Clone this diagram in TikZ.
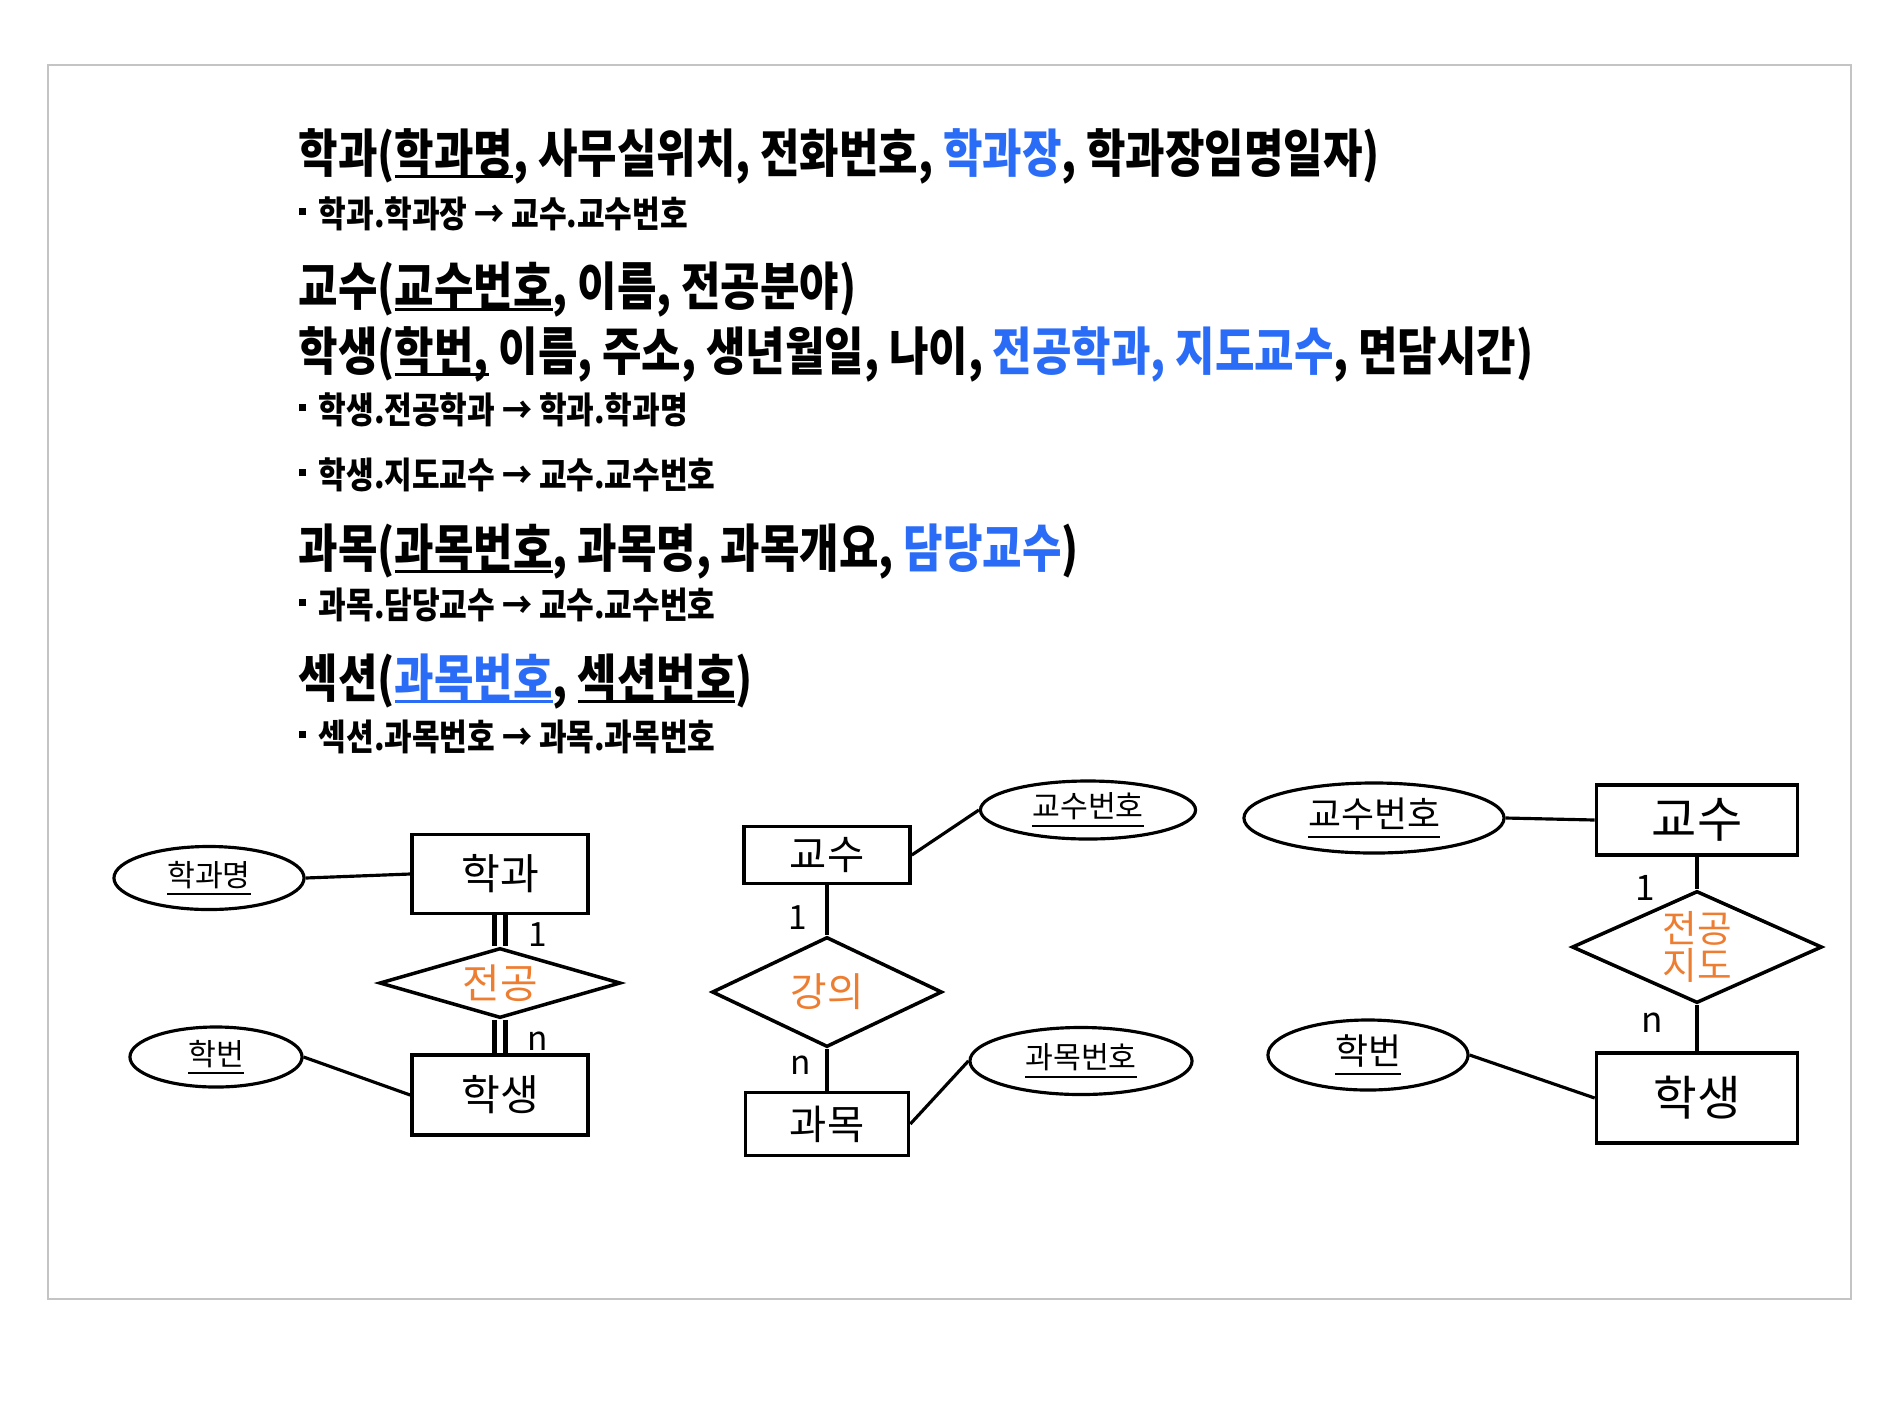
\documentclass[tikz,border=0pt]{standalone}
\usepackage{fontspec}
\usepackage{tikz}
\usetikzlibrary{shapes.geometric, positioning, calc}
\usepackage{xcolor}
\newfontfamily\krhead{Noto Sans CJK KR}[FakeStretch=0.83]
\newfontfamily\kr{Noto Sans CJK KR}
\definecolor{Ink}{HTML}{000000}
\definecolor{Frame}{HTML}{C4C4C4}
\definecolor{KeyBlue}{HTML}{2B6CF6}
\definecolor{RelOrange}{HTML}{ED7D31}
\newcommand{\fkey}[1]{\textcolor{KeyBlue}{#1}}
\newcommand{\pkey}[2][0.12em]{\setbox0\hbox{#2}\rlap{\rule[-#1]{\wd0}{0.07em}}\box0\relax}
\newcommand{\fkbullet}{\rule[3.4pt]{2pt}{2pt}\hspace{3.7pt}}

\begin{document}
\begin{tikzpicture}[
            x=0.01cm, y=-0.01cm,
            head/.style={
                anchor=base west,
                inner sep=0pt,
                text=Ink,
                font=\krhead\bfseries\fontsize{14.7}{17}\selectfont
            },
            fkline/.style={
                head,
                font=\krhead\bfseries\fontsize{10.3}{12}\selectfont
            },
            entity/.style={
                rectangle,
                draw=Ink,
                line width=1pt,
                inner sep=0pt,
                font=\kr\fontsize{12}{14}\selectfont
            },
            rel/.style={
                diamond,
                draw=Ink,
                line width=1pt,
                inner sep=0pt,
                align=center,
                text=RelOrange,
                font=\kr\fontsize{11.6}{13}\selectfont
            },
            attr/.style={
                ellipse,
                draw=Ink,
                line width=0.9pt,
                inner sep=0pt,
                font=\kr\fontsize{8.6}{10}\selectfont
            },
            link/.style={line width=0.9pt, color=Ink},
            total/.style={line width=1.2pt, double, double distance=1.9pt},
            card/.style={inner sep=0pt, font=\kr\fontsize{9.5}{11}\selectfont}
        ]
            \useasboundingbox (0,0) rectangle (1890,1417);
            \draw[Frame, line width=0.8pt] (48,65) rectangle (1851,1299);

            % Relation schemas
            \node[head] (dept) at (298,172) {학과(\pkey{학과명}, 사무실위치, 전화번호, \fkey{학과장}, 학과장임명일자)};
            \node[fkline] (deptfk) at (298,227) {\fkbullet 학과.학과장 → 교수.교수번호};
            \node[head] (prof) at (298,305) {교수(\pkey{교수번호}, 이름, 전공분야)};
            \node[head] (stud) at (298,370) {학생(\pkey{학번,} 이름, 주소, 생년월일, 나이, \fkey{전공학과, 지도교수}, 면담시간)};
            \node[fkline] (studfka) at (298,423) {\fkbullet 학생.전공학과 → 학과.학과명};
            \node[fkline] (studfkb) at (298,488) {\fkbullet 학생.지도교수 → 교수.교수번호};
            \node[head] (course) at (298,567) {과목(\pkey{과목번호}, 과목명, 과목개요, \fkey{담당교수})};
            \node[fkline] (coursefk) at (298,618) {\fkbullet 과목.담당교수 → 교수.교수번호};
            \node[head] (sect) at (298,697) {섹션(\fkey{\pkey{과목번호}}, \pkey{섹션번호})};
            \node[fkline] (sectfk) at (298,750) {\fkbullet 섹션.과목번호 → 과목.과목번호};

            % Department -- Student
            \node[entity, minimum width=1.76cm, minimum height=0.79cm] (hakgwa) at (500,874) {학과};
            \node[attr, minimum width=1.9cm, minimum height=0.63cm] (hgm) at (209,878) {\pkey[0.3em]{학과명}};
            \node[rel, aspect=3.4, minimum width=2.41cm, minimum height=0.7cm] (major) at (500,983) {전공};
            \node[entity, minimum width=1.76cm, minimum height=0.8cm] (haksaeng) at (500,1095) {학생};
            \node[attr, minimum width=1.72cm, minimum height=0.6cm] (hb) at (216,1057) {\pkey[0.3em]{학번}};

            \draw[link] (hgm.east) -- (hakgwa.west);
            \draw[link] (hb.east) -- (haksaeng.west);
            \draw[total] (hakgwa.south) -- node[card, pos=0.63, right=0.26cm]{1} (major.north);
            \draw[total] (major.south) -- node[card, pos=0.65, right=0.25cm]{n} (haksaeng.north);

            % Professor -- Course
            \node[entity, minimum width=1.66cm, minimum height=0.57cm, font=\kr\fontsize{11.5}{13}\selectfont] (gyosu) at (827,855) {교수};
            \node[attr, minimum width=2.15cm, minimum height=0.58cm] (gsbh) at (1088,810) {\pkey[0.3em]{교수번호}};
            \node[rel, aspect=2, minimum width=2.3cm, minimum height=1.1cm, font=\kr\fontsize{11.3}{13}\selectfont] (lecture) at (827,992) {강의};
            \node[entity, minimum width=1.63cm, minimum height=0.63cm, font=\kr\fontsize{11.5}{13}\selectfont] (gwamok) at (827,1124) {과목};
            \node[attr, minimum width=2.22cm, minimum height=0.67cm] (gmbh) at (1081,1061) {\pkey[0.3em]{과목번호}};

            \draw[link] (gyosu.east) -- (gsbh.west);
            \draw[link] (gwamok.east) -- (gmbh.west);
            \draw[link] (gyosu.south) -- node[card, pos=0.64, left=0.18cm]{1} (lecture.north);
            \draw[link] (lecture.south) -- node[card, pos=0.39, left=0.15cm]{n} (gwamok.north);

            % Professor -- Student
            \node[entity, minimum width=2.01cm, minimum height=0.7cm, font=\kr\fontsize{14}{16}\selectfont] (gyosuc) at (1697,820) {교수};
            \node[attr, minimum width=2.6cm, minimum height=0.7cm, font=\kr\fontsize{10.2}{12}\selectfont] (gsbhc) at (1374,818) {\pkey[0.3em]{교수번호}};
            \node[rel, aspect=2.2, minimum width=2.5cm, minimum height=1.12cm, font=\kr\fontsize{10.7}{10.3}\selectfont] (advise) at (1697,947) {전공\\지도};
            \node[entity, minimum width=2.01cm, minimum height=0.9cm, font=\kr\fontsize{13.5}{15}\selectfont] (haksaengc) at (1697,1098) {학생};
            \node[attr, minimum width=2.0cm, minimum height=0.7cm, font=\kr\fontsize{10.2}{12}\selectfont] (hbc) at (1368,1055) {\pkey[0.3em]{학번}};

            \draw[link] (gsbhc.east) -- (gyosuc.west);
            \draw[link] (hbc.east) -- (haksaengc.west);
            \draw[link] (gyosuc.south) -- node[card, pos=0.95, left=0.4cm, font=\kr\fontsize{10}{12}\selectfont]{1} (advise.north);
            \draw[link] (advise.south) -- node[card, pos=0.39, left=0.32cm, font=\kr\fontsize{10}{12}\selectfont]{n} (haksaengc.north);
        \end{tikzpicture}
\end{document}
